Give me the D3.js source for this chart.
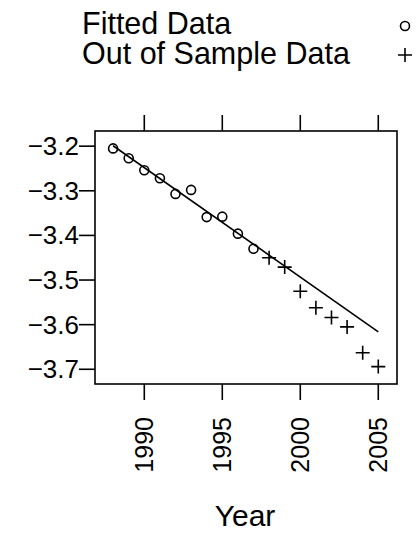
<!DOCTYPE html>
<html><head><meta charset="utf-8">
<script src="https://cdn.jsdelivr.net/npm/d3@7"></script>
<style>body{margin:0;background:#fff}text{font-family:"Liberation Sans",Arial,sans-serif}</style>
</head><body><svg id="chart" width="417" height="536"></svg>
<script>
var fitYears = [1988,1989,1990,1991,1992,1993,1994,1995,1996,1997];
var fitVals = [-3.205,-3.227,-3.254,-3.272,-3.307,-3.298,-3.359,-3.358,-3.396,-3.430];
var oosYears = [1998,1999,2000,2001,2002,2003,2004,2005];
var oosVals = [-3.450,-3.471,-3.525,-3.562,-3.584,-3.605,-3.663,-3.694];
var lineYears = [1988,2005];
var lineVals = [-3.199,-3.616];
var xTicks = [1990,1995,2000,2005];
var yTicks = [-3.2,-3.3,-3.4,-3.5,-3.6,-3.7];

var svg = d3.select("#chart");
var L = 95, R = 397, T = 131, B = 384;
var x = d3.scaleLinear().domain([1986.84, 2006.2]).range([L, R]);
var y = d3.scaleLinear().domain([-3.166, -3.733]).range([T, B]);

svg.append("rect").attr("x", L).attr("y", T).attr("width", R - L).attr("height", B - T)
  .attr("fill", "none").attr("stroke", "#000").attr("stroke-width", 1.6);

xTicks.forEach(function (t) {
  svg.append("line").attr("x1", x(t)).attr("x2", x(t)).attr("y1", T - 16).attr("y2", T).attr("stroke", "#000").attr("stroke-width", 1.6);
  svg.append("line").attr("x1", x(t)).attr("x2", x(t)).attr("y1", B).attr("y2", B + 16).attr("stroke", "#000").attr("stroke-width", 1.6);
  svg.append("text").attr("transform", "translate(" + (x(t) + 9) + "," + (B + 33) + ") rotate(-90)")
    .attr("text-anchor", "end").attr("font-size", 25).text(t);
});
yTicks.forEach(function (t) {
  svg.append("line").attr("x1", L - 16).attr("x2", L).attr("y1", y(t)).attr("y2", y(t)).attr("stroke", "#000").attr("stroke-width", 1.6);
  svg.append("text").attr("x", L - 16).attr("y", y(t) + 9).attr("text-anchor", "end").attr("font-size", 26)
    .text(d3.format(".1f")(t).replace("-", "\u2212"));
});

svg.append("path").datum(lineYears.map(function (d, i) { return [d, lineVals[i]]; }))
  .attr("d", d3.line().x(function (d) { return x(d[0]); }).y(function (d) { return y(d[1]); }))
  .attr("stroke", "#000").attr("stroke-width", 1.6).attr("fill", "none");

svg.selectAll(".fit").data(fitYears).enter().append("circle")
  .attr("cx", function (d) { return x(d); }).attr("cy", function (d, i) { return y(fitVals[i]); })
  .attr("r", 4.5).attr("fill", "none").attr("stroke", "#000").attr("stroke-width", 1.6);

function drawPlus(cx, cy, s) {
  svg.append("path").attr("d", "M" + (cx - s) + "," + cy + "H" + (cx + s) + "M" + cx + "," + (cy - s) + "V" + (cy + s))
    .attr("stroke", "#000").attr("stroke-width", 1.6);
}
oosYears.forEach(function (d, i) { drawPlus(x(d), y(oosVals[i]), 7); });

svg.append("text").attr("x", 82).attr("y", 34).attr("font-size", 30.5).text("Fitted Data");
svg.append("text").attr("x", 82).attr("y", 64).attr("font-size", 30.5).text("Out of Sample Data");
svg.append("circle").attr("cx", 405).attr("cy", 26).attr("r", 4.5).attr("fill", "none").attr("stroke", "#000").attr("stroke-width", 1.6);
drawPlus(405, 55, 7);

svg.append("text").attr("x", 245).attr("y", 526).attr("text-anchor", "middle").attr("font-size", 30).text("Year");
</script></body></html>
